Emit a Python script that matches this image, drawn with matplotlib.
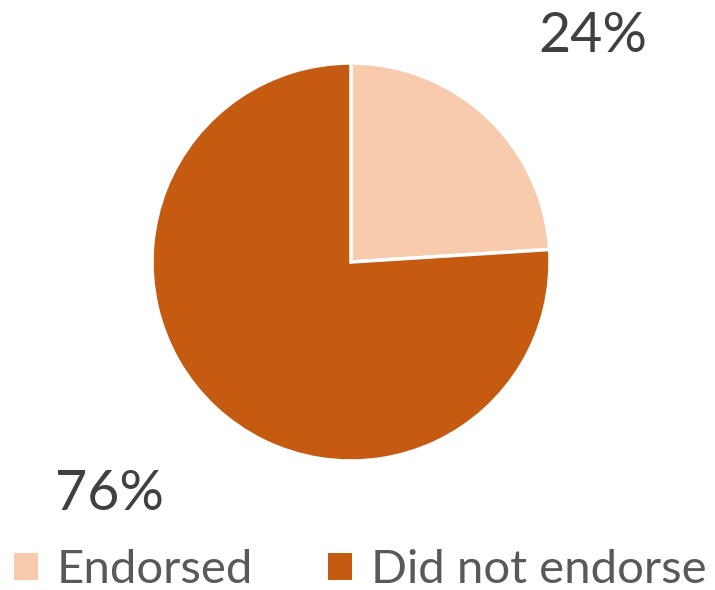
import matplotlib.pyplot as plt

categories = ['Endorsed', 'Did not endorse']
shares = [24, 76]
colors = ['#F8CBAD', '#C55A11']

W, H = 715, 590
fig = plt.figure(figsize=(W / 100, H / 100), dpi=100)

# pie centre ~ (351, 262) px, radius ~199 px
cx, cy, r = 351, 262, 199
ax = fig.add_axes([(cx - r) / W, 1 - (cy + r) / H, 2 * r / W, 2 * r / H])
wedges, _ = ax.pie(shares, colors=colors, startangle=90, counterclock=False,
                   radius=1, wedgeprops=dict(edgecolor='white', linewidth=2.5))
ax.set_xlim(-1, 1)
ax.set_ylim(-1, 1)
ax.set_aspect('equal')
ax.axis('off')

# data labels
font = 'Lato'
label_pos = [(593, 36), (110, 494)]
for (px, py), v in zip(label_pos, shares):
    fig.text(px / W, 1 - py / H, f'{v}%', ha='center', va='center',
             fontsize=40, color='#404040', family=font)

leg = fig.legend(wedges, categories, loc='center left', bbox_to_anchor=(14 / W, 1 - 570 / H),
                 ncol=2, frameon=False, handlelength=0.5, handleheight=0.5,
                 handletextpad=0.4, columnspacing=1.6, borderpad=0, borderaxespad=0,
                 prop=dict(family=font, size=34))
for t in leg.get_texts():
    t.set_color('#595959')
for h in leg.legend_handles:
    h.set_edgecolor('none')

fig.savefig('out.png', dpi=100)
